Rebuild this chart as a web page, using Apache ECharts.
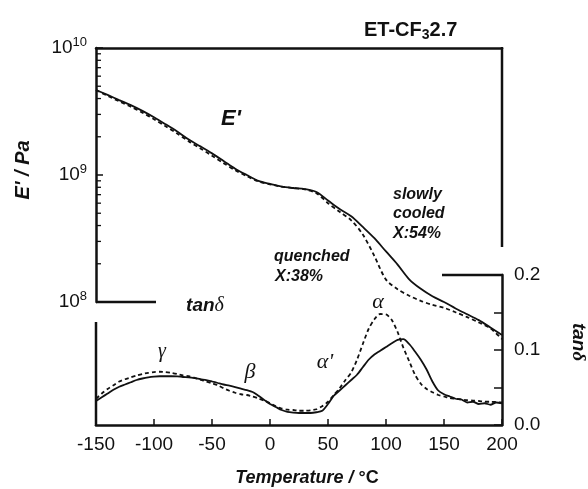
<!DOCTYPE html>
<html>
<head>
<meta charset="utf-8">
<script src="https://cdn.jsdelivr.net/npm/echarts@6/dist/echarts.min.js"></script>
<style>
  html, body { margin: 0; padding: 0; background: #fff; }
  #chart { width: 588px; height: 489px; }
</style>
</head>
<body>
<div id="chart"></div>
<script>
// temperature grid for E' (every 10 °C)
var tempE = [-150, -140, -130, -120, -110, -100, -90, -80, -70, -60, -50, -40, -30, -20, -10,
  0, 10, 20, 30, 40, 50, 60, 70, 80, 90, 100, 110, 120, 130, 140, 150, 160, 170, 180, 190, 200];

// E' / Pa, slowly cooled (solid) and quenched (dashed)
var eSlow = [4.67e9, 4.27e9, 3.89e9, 3.55e9, 3.2e9, 2.85e9, 2.51e9, 2.2e9, 1.9e9, 1.68e9, 1.48e9,
  1.29e9, 1.12e9, 1.0e9, 9.0e8, 8.5e8, 8.1e8, 7.9e8, 7.75e8, 7.35e8, 6.3e8, 5.4e8, 4.73e8, 3.9e8,
  3.18e8, 2.5e8, 1.97e8, 1.51e8, 1.27e8, 1.11e8, 1.0e8, 8.9e7, 8.0e7, 7.2e7, 6.3e7, 5.5e7];
var eQuench = [4.67e9, 4.2e9, 3.8e9, 3.45e9, 3.1e9, 2.75e9, 2.42e9, 2.12e9, 1.84e9, 1.62e9, 1.42e9,
  1.24e9, 1.09e9, 9.8e8, 8.9e8, 8.45e8, 8.1e8, 7.9e8, 7.7e8, 7.2e8, 6.0e8, 5.13e8, 4.4e8, 3.4e8,
  2.3e8, 1.5e8, 1.26e8, 1.12e8, 1.02e8, 9.5e7, 9.0e7, 8.3e7, 7.6e7, 6.9e7, 6.2e7, 5.1e7];

// temperature grid for tan delta (every 5 °C)
var tempTan = [-150, -145, -140, -135, -130, -125, -120, -115, -110, -105, -100, -95, -90, -85, -80,
  -75, -70, -65, -60, -55, -50, -45, -40, -35, -30, -25, -20, -15, -10, -5, 0, 5, 10, 15, 20, 25,
  30, 35, 40, 45, 50, 55, 60, 65, 70, 75, 80, 85, 90, 95, 100, 105, 110, 115, 120, 125, 130, 135,
  140, 145, 150, 155, 160, 165, 170, 175, 180, 185, 190, 195, 200];

var tanSlow = [0.032, 0.037, 0.042, 0.047, 0.051, 0.054, 0.057, 0.060, 0.062, 0.0635, 0.0645,
  0.065, 0.065, 0.065, 0.0648, 0.064, 0.0636, 0.0625, 0.061, 0.0598, 0.058, 0.056, 0.054, 0.0524,
  0.0505, 0.0485, 0.0465, 0.044, 0.039, 0.0335, 0.028, 0.024, 0.020, 0.0175, 0.0165, 0.016, 0.016,
  0.016, 0.017, 0.019, 0.028, 0.039, 0.046, 0.053, 0.060, 0.067, 0.077, 0.087, 0.094, 0.099, 0.104,
  0.109, 0.1135, 0.1145, 0.108, 0.098, 0.087, 0.074, 0.058, 0.046, 0.041, 0.038, 0.035, 0.034,
  0.030, 0.031, 0.028, 0.029, 0.027, 0.030, 0.029];
var tanQuench = [0.035, 0.042, 0.048, 0.053, 0.058, 0.061, 0.0635, 0.066, 0.068, 0.0695, 0.0705,
  0.071, 0.0705, 0.0695, 0.068, 0.066, 0.065, 0.063, 0.0605, 0.058, 0.0555, 0.053, 0.049, 0.0457,
  0.043, 0.041, 0.040, 0.038, 0.0355, 0.0325, 0.029, 0.025, 0.022, 0.0205, 0.020, 0.019, 0.019,
  0.0195, 0.021, 0.025, 0.031, 0.040, 0.049, 0.060, 0.070, 0.087, 0.108, 0.128, 0.141, 0.148,
  0.1475, 0.140, 0.124, 0.103, 0.085, 0.067, 0.055, 0.048, 0.0436, 0.040, 0.038, 0.036, 0.035,
  0.034, 0.033, 0.0325, 0.032, 0.031, 0.031, 0.0305, 0.030];

// minor ticks of the log axis
var logMinor = [2e8, 3e8, 4e8, 5e8, 6e8, 7e8, 8e8, 9e8, 2e9, 3e9, 4e9, 5e9, 6e9, 7e9, 8e9, 9e9];

var FONT = 'Liberation Sans, Arial, sans-serif';
var GREEK = 'Liberation Serif, Times New Roman, serif';
var INK = '#111';

function pairs(xs, ys) {
  return xs.map(function (x, i) { return [x, ys[i]]; });
}

var chart = echarts.init(document.getElementById('chart'));

var option = {
  animation: false,
  backgroundColor: '#fff',
  title: {
    text: '{a|ET-CF}{b|3}{a|2.7}',
    left: 359,
    top: 13,
    textStyle: {
      rich: {
        a: { fontFamily: FONT, fontWeight: 'bold', fontSize: 20, color: INK, lineHeight: 24 },
        b: { fontFamily: FONT, fontWeight: 'bold', fontSize: 14, color: INK, verticalAlign: 'bottom', lineHeight: 20 }
      }
    }
  },
  grid: [
    { left: 96, top: 48, width: 406, height: 254 },   // E'
    { left: 96, top: 275, width: 406, height: 150 }   // tan delta
  ],
  xAxis: [
    {
      gridIndex: 0, type: 'value', min: -150, max: 200, position: 'top',
      axisLine: { show: true, onZero: false, lineStyle: { color: INK, width: 2.5 } },
      axisTick: { show: false }, axisLabel: { show: false }, splitLine: { show: false }
    },
    {
      gridIndex: 1, type: 'value', min: -150, max: 200, interval: 50,
      axisLine: { show: true, onZero: false, lineStyle: { color: INK, width: 2.5 } },
      axisTick: { show: true, inside: true, length: 6, lineStyle: { color: INK, width: 1.5 } },
      axisLabel: { fontFamily: FONT, fontSize: 19, color: INK, margin: 10 },
      splitLine: { show: false }
    }
  ],
  yAxis: [
    {
      gridIndex: 0, type: 'log', logBase: 10, min: 1e8, max: 1e10, position: 'left',
      axisLine: { show: true, onZero: false, lineStyle: { color: INK, width: 2.5 } },
      axisTick: { show: true, inside: true, length: 7, lineStyle: { color: INK, width: 1.5 } },
      axisLabel: {
        margin: 9,
        formatter: function (v) {
          return '{n|10}{s|' + Math.round(Math.log10(v)) + '}';
        },
        rich: {
          n: { fontFamily: FONT, fontSize: 19, color: INK, lineHeight: 24 },
          s: { fontFamily: FONT, fontSize: 13, color: INK, verticalAlign: 'top', lineHeight: 14 }
        }
      },
      splitLine: { show: false }
    },
    {
      gridIndex: 1, type: 'value', min: 0, max: 0.2, interval: 0.1, position: 'right',
      axisLine: { show: true, onZero: false, lineStyle: { color: INK, width: 2.5 } },
      axisTick: { show: true, inside: true, length: 8, lineStyle: { color: INK, width: 1.5 } },
      minorTick: { show: true, splitNumber: 2, length: 8, lineStyle: { color: INK, width: 1.5 } },
      axisLabel: {
        fontFamily: FONT, fontSize: 19, color: INK, margin: 12,
        formatter: function (v) { return v.toFixed(1); }
      },
      splitLine: { show: false }
    }
  ],
  series: [
    {
      name: 'slowly cooled E\'', type: 'line', xAxisIndex: 0, yAxisIndex: 0,
      data: pairs(tempE, eSlow), showSymbol: false, smooth: 0.3, clip: false,
      lineStyle: { color: INK, width: 1.8 }
    },
    {
      name: 'quenched E\'', type: 'line', xAxisIndex: 0, yAxisIndex: 0,
      data: pairs(tempE, eQuench), showSymbol: false, smooth: 0.3, clip: false,
      lineStyle: { color: INK, width: 1.8, type: [4, 3] }
    },
    {
      name: 'slowly cooled tan', type: 'line', xAxisIndex: 1, yAxisIndex: 1,
      data: pairs(tempTan, tanSlow), showSymbol: false, smooth: 0.25,
      lineStyle: { color: INK, width: 1.8 }
    },
    {
      name: 'quenched tan', type: 'line', xAxisIndex: 1, yAxisIndex: 1,
      data: pairs(tempTan, tanQuench), showSymbol: false, smooth: 0.25,
      lineStyle: { color: INK, width: 1.8, type: [4, 3] }
    },
    {
      // log minor ticks, placed through the axis scale
      type: 'custom', xAxisIndex: 0, yAxisIndex: 0, silent: true,
      data: logMinor.map(function (v) { return [-150, v]; }),
      renderItem: function (params, api) {
        var p = api.coord([api.value(0), api.value(1)]);
        return {
          type: 'line',
          shape: { x1: p[0], y1: p[1], x2: p[0] + 5, y2: p[1] },
          style: { stroke: INK, lineWidth: 1.3 }
        };
      }
    }
  ],
  graphic: [
    // broken frame pieces
    { type: 'line', shape: { x1: 96, y1: 302, x2: 156, y2: 302 }, style: { stroke: INK, lineWidth: 2.5 } },
    { type: 'line', shape: { x1: 96, y1: 322, x2: 96, y2: 426 }, style: { stroke: INK, lineWidth: 2.5 } },
    { type: 'line', shape: { x1: 502, y1: 47, x2: 502, y2: 247 }, style: { stroke: INK, lineWidth: 2.5 } },
    { type: 'line', shape: { x1: 442, y1: 275, x2: 503, y2: 275 }, style: { stroke: INK, lineWidth: 2.5 } },

    // axis names
    {
      type: 'text', x: 23, y: 170, rotation: Math.PI / 2,
      style: { text: 'E\' / Pa', font: 'italic bold 20px ' + FONT, fill: INK, align: 'center', verticalAlign: 'middle' }
    },
    {
      type: 'text', x: 578, y: 342, rotation: -Math.PI / 2,
      style: {
        text: '{a|tan}{d|δ}', align: 'center', verticalAlign: 'middle',
        rich: {
          a: { font: 'italic bold 19px ' + FONT, fill: INK },
          d: { font: 'italic bold 19px ' + GREEK, fill: INK }
        }
      }
    },
    {
      type: 'text', x: 307, y: 478,
      style: {
        text: '{a|Temperature / }{b|°C}', align: 'center', verticalAlign: 'middle',
        rich: {
          a: { font: 'italic bold 18px ' + FONT, fill: INK },
          b: { font: 'bold 18px ' + FONT, fill: INK }
        }
      }
    },

    // annotations
    { type: 'text', x: 231, y: 119, style: { text: 'E\'', font: 'italic bold 22px ' + FONT, fill: INK, align: 'center', verticalAlign: 'middle' } },
    { type: 'text', x: 393, y: 195, style: { text: 'slowly', font: 'italic bold 16px ' + FONT, fill: INK, verticalAlign: 'middle' } },
    { type: 'text', x: 393, y: 214, style: { text: 'cooled', font: 'italic bold 16px ' + FONT, fill: INK, verticalAlign: 'middle' } },
    { type: 'text', x: 393, y: 234, style: { text: 'X:54%', font: 'italic bold 16px ' + FONT, fill: INK, verticalAlign: 'middle' } },
    { type: 'text', x: 274, y: 257, style: { text: 'quenched', font: 'italic bold 16px ' + FONT, fill: INK, verticalAlign: 'middle' } },
    { type: 'text', x: 275, y: 277, style: { text: 'X:38%', font: 'italic bold 16px ' + FONT, fill: INK, verticalAlign: 'middle' } },
    {
      type: 'text', x: 205, y: 306,
      style: {
        text: '{a|tan}{d|δ}', align: 'center', verticalAlign: 'middle',
        rich: {
          a: { font: 'italic bold 19px ' + FONT, fill: INK },
          d: { font: 'italic 20px ' + GREEK, fill: INK }
        }
      }
    },
    { type: 'text', x: 162, y: 352, style: { text: 'γ', font: 'italic 20px ' + GREEK, fill: INK, align: 'center', verticalAlign: 'middle' } },
    { type: 'text', x: 250, y: 372, style: { text: 'β', font: 'italic 22px ' + GREEK, fill: INK, align: 'center', verticalAlign: 'middle' } },
    { type: 'text', x: 325, y: 362, style: { text: 'α\'', font: 'italic 22px ' + GREEK, fill: INK, align: 'center', verticalAlign: 'middle' } },
    { type: 'text', x: 378, y: 302, style: { text: 'α', font: 'italic 22px ' + GREEK, fill: INK, align: 'center', verticalAlign: 'middle' } }
  ]
};

chart.setOption(option);
</script>
</body>
</html>
